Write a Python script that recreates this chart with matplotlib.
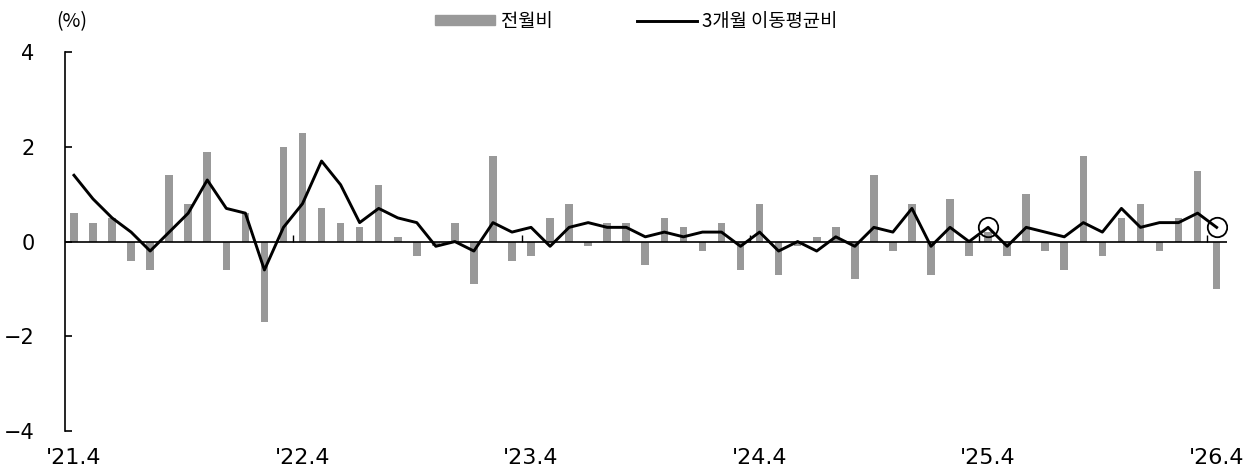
import numpy as np
import matplotlib
matplotlib.use("Agg")
import matplotlib.pyplot as plt
from matplotlib.patches import Patch
from matplotlib.lines import Line2D

plt.rcParams['font.family'] = ['Noto Sans CJK KR', 'DejaVu Sans']

# 전월비 (monthly change, %) '21.4 ~ '26.4
mom = [0.6, 0.4, 0.5, -0.4, -0.6, 1.4, 0.8, 1.9, -0.6, 0.6, -1.7, 2.0,
       2.3, 0.7, 0.4, 0.3, 1.2, 0.1, -0.3, -0.1, 0.4, -0.9, 1.8, -0.4,
       -0.3, 0.5, 0.8, -0.1, 0.4, 0.4, -0.5, 0.5, 0.3, -0.2, 0.4, -0.6,
       0.8, -0.7, -0.1, 0.1, 0.3, -0.8, 1.4, -0.2, 0.8, -0.7, 0.9, -0.3,
       0.2, -0.3, 1.0, -0.2, -0.6, 1.8, -0.3, 0.5, 0.8, -0.2, 0.5, 1.5,
       -1.0]
# 3개월 이동평균비
ma3 = [1.4, 0.9, 0.5, 0.2, -0.2, 0.2, 0.6, 1.3, 0.7, 0.6, -0.6, 0.3,
       0.8, 1.7, 1.2, 0.4, 0.7, 0.5, 0.4, -0.1, 0.0, -0.2, 0.4, 0.2,
       0.3, -0.1, 0.3, 0.4, 0.3, 0.3, 0.1, 0.2, 0.1, 0.2, 0.2, -0.1,
       0.2, -0.2, 0.0, -0.2, 0.1, -0.1, 0.3, 0.2, 0.7, -0.1, 0.3, 0.0,
       0.3, -0.1, 0.3, 0.2, 0.1, 0.4, 0.2, 0.7, 0.3, 0.4, 0.4, 0.6,
       0.3]
xlabels = ["'21.4", "'22.4", "'23.4", "'24.4", "'25.4", "'26.4"]
circled = [48, 60]   # '25.4, '26.4

x = np.arange(len(mom))
ma3 = np.array(ma3)

fig = plt.figure(figsize=(12.6, 4.73), dpi=100)
ax = fig.add_axes([0.0516, 0.0888, 0.922, 0.801])

ax.bar(x, mom, width=0.4, color='#999999', zorder=1)
ax.axhline(0, color='black', lw=1.2, zorder=2)
# year separator ticks on the zero line
ax.vlines(np.arange(11.5, len(mom), 12), 0, 0.13, color='black', lw=1.0, zorder=2)
ax.plot(x, ma3, color='black', lw=2.1, zorder=3)
ax.plot(x[circled], ma3[circled], 'o', ms=14, mfc='none', mec='black', mew=1.3, zorder=4)

ax.set_xlim(-0.47, 60.53)
ax.set_ylim(-4, 4)
ax.set_yticks([4, 2, 0, -2, -4])
ax.set_yticklabels(['4', '2', '0', '\u22122', '\u22124'], family=['DejaVu Sans'])
ax.tick_params(axis='y', direction='in', length=5, width=1.2, pad=22, labelsize=15)
ax.set_xticks(np.arange(0, len(mom), 12))
ax.set_xticklabels(xlabels, family=['DejaVu Sans'])
ax.tick_params(axis='x', length=0, pad=12, labelsize=16)

for s in ['top', 'right', 'bottom']:
    ax.spines[s].set_visible(False)
ax.spines['left'].set_linewidth(1.2)

fig.text(0.045, 0.955, '(%)', fontsize=14, ha='left', va='center')

handles = [Patch(color='#999999'), Line2D([0], [0], color='black', lw=2.1)]
fig.legend(handles, ['전월비', '3개월 이동평균비'], loc='center',
           bbox_to_anchor=(0.505, 0.955), ncol=2, frameon=False, fontsize=13.5,
           handlelength=3.2, handleheight=0.5, handletextpad=0.3, columnspacing=4.5)

fig.savefig('out.png', dpi=100)
